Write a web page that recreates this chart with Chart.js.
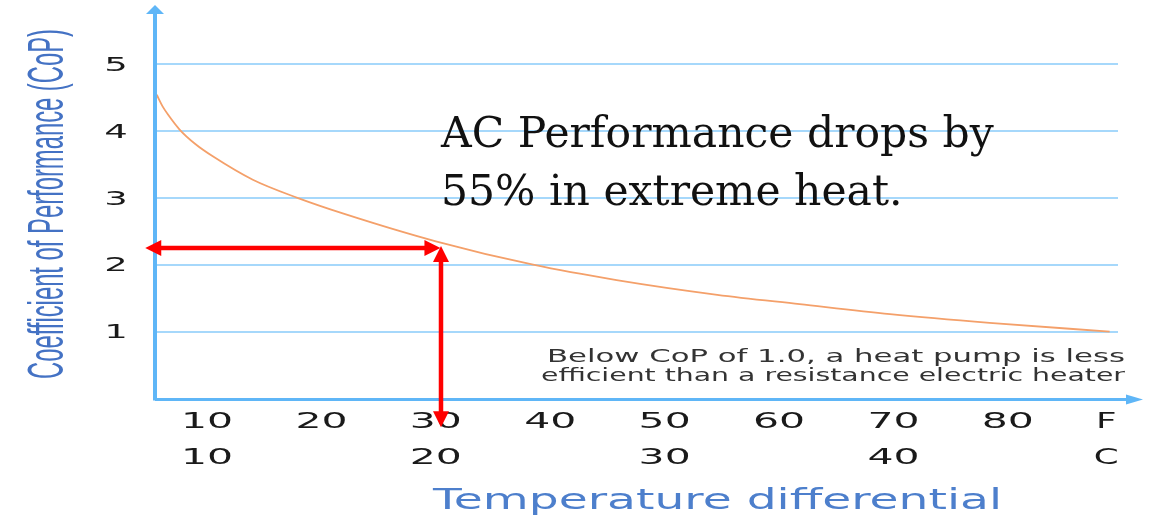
<!DOCTYPE html>
<html>
<head>
<meta charset="utf-8">
<script src="https://cdn.jsdelivr.net/npm/chart.js@4"></script>
<style>
  body { margin: 0; background: #fff; }
  canvas { display: block; }
</style>
</head>
<body>
<canvas id="cop-chart" width="1158" height="516"></canvas>
<script>
// temperature differential (F) vs coefficient of performance
const tempDiffF = [5.6, 6.1, 6.6, 7.6, 9.0, 10.5, 14.0, 17.9, 22, 30, 38.5, 45.8, 54.6, 61.8, 69.7, 78.4, 88.9];
const copValues = [4.54, 4.37, 4.24, 4.02, 3.8, 3.62, 3.27, 3.0, 2.76, 2.35, 2.0, 1.77, 1.55, 1.41, 1.26, 1.13, 1.0];

const yTickValues = [1, 2, 3, 4, 5];
const fTickValues = [10, 20, 30, 40, 50, 60, 70, 80];
const fTickLabels = ['10', '20', '30', '40', '50', '60', '70', '80'];
const cTickAtF = [10, 30, 50, 70];
const cTickLabels = ['10', '20', '30', '40'];
const unitAtF = 88.6;
const unitLabels = ['F', 'C'];

// red double arrows, in data units (F, CoP)
const arrowH = [[4.6, 2.25], [30.4, 2.25]];
const arrowV = [[30.45, 2.28], [30.45, -0.43]];

const headline = ['AC Performance drops by', '55% in extreme heat.'];
const note = ['Below CoP of 1.0, a heat pump is less', 'efficient than a resistance electric heater'];
const xTitle = 'Temperature differential';
const yTitle = 'Coefficient of Performance (CoP)';

const points = tempDiffF.map(function (f, i) { return { x: f, y: copValues[i] }; });

function stretchText(ctx, text, x, y, font, sx, align, color, baseline) {
    ctx.save();
    ctx.font = font;
    ctx.fillStyle = color;
    ctx.textAlign = align;
    ctx.textBaseline = baseline || 'middle';
    ctx.translate(x, y);
    ctx.scale(sx, 1);
    ctx.fillText(text, 0, 0);
    ctx.restore();
}

function fitText(ctx, text, x, y, font, width, align, color, baseline) {
    ctx.save();
    ctx.font = font;
    const sx = width / ctx.measureText(text).width;
    ctx.restore();
    stretchText(ctx, text, x, y, font, sx, align, color, baseline);
}

function arrowHead(ctx, x, y, angle, len, half) {
    ctx.save();
    ctx.translate(x, y);
    ctx.rotate(angle);
    ctx.beginPath();
    ctx.moveTo(0, 0);
    ctx.lineTo(-len, -half);
    ctx.lineTo(-len, half);
    ctx.closePath();
    ctx.fill();
    ctx.restore();
}

function doubleArrow(ctx, p1, p2) {
    const ang = Math.atan2(p2[1] - p1[1], p2[0] - p1[0]);
    const len = 14;
    ctx.beginPath();
    ctx.moveTo(p1[0] + Math.cos(ang) * len, p1[1] + Math.sin(ang) * len);
    ctx.lineTo(p2[0] - Math.cos(ang) * len, p2[1] - Math.sin(ang) * len);
    ctx.stroke();
    arrowHead(ctx, p2[0], p2[1], ang, len + 2, 8);
    arrowHead(ctx, p1[0], p1[1], ang + Math.PI, len + 2, 8);
}

const decorPlugin = {
    id: 'decor',
    afterDraw: function (chart) {
        const ctx = chart.ctx;
        const xs = chart.scales.x;
        const ys = chart.scales.y;
        const area = chart.chartArea;
        const axisColor = '#5fb6f7';
        const tickFont = '21px "DejaVu Sans"';

        // axis lines with arrows
        ctx.save();
        ctx.strokeStyle = axisColor;
        ctx.fillStyle = axisColor;
        ctx.lineWidth = 3;
        ctx.beginPath();
        ctx.moveTo(area.left, area.bottom + 1);
        ctx.lineTo(1130, area.bottom + 1);
        ctx.stroke();
        arrowHead(ctx, 1143, area.bottom + 1, 0, 17, 5);
        ctx.lineWidth = 4;
        ctx.beginPath();
        ctx.moveTo(area.left, area.bottom + 2);
        ctx.lineTo(area.left, 14);
        ctx.stroke();
        arrowHead(ctx, area.left, 5, -Math.PI / 2, 9, 9);
        ctx.restore();

        // y tick labels
        yTickValues.forEach(function (v) {
            stretchText(ctx, String(v), 116, ys.getPixelForValue(v) + 1.5, '20px "DejaVu Sans"', 1.85, 'center', '#1a1a1a');
        });
        // x tick labels, F row and C row
        fTickValues.forEach(function (v, i) {
            stretchText(ctx, fTickLabels[i], xs.getPixelForValue(v), 422.5, tickFont, 1.95, 'center', '#1a1a1a');
        });
        cTickAtF.forEach(function (v, i) {
            stretchText(ctx, cTickLabels[i], xs.getPixelForValue(v), 458.5, tickFont, 1.95, 'center', '#1a1a1a');
        });
        stretchText(ctx, unitLabels[0], xs.getPixelForValue(unitAtF), 422.5, tickFont, 1.7, 'center', '#1a1a1a');
        stretchText(ctx, unitLabels[1], xs.getPixelForValue(unitAtF), 458.5, tickFont, 1.7, 'center', '#1a1a1a');

        // axis titles
        fitText(ctx, xTitle, 717.5, 509, '28px "DejaVu Sans"', 569, 'center', '#4d7fcc', 'alphabetic');
        ctx.save();
        ctx.font = '23px "Liberation Sans"';
        const sl = 350 / ctx.measureText(yTitle).width;
        ctx.fillStyle = '#4472c4';
        ctx.textAlign = 'center';
        ctx.textBaseline = 'alphabetic';
        ctx.translate(63, 204);
        ctx.rotate(-Math.PI / 2);
        ctx.scale(sl, 2.19);
        ctx.fillText(yTitle, 0, 0);
        ctx.restore();

        // headline
        ctx.save();
        ctx.font = '42.5px "DejaVu Serif"';
        ctx.fillStyle = '#111';
        ctx.textAlign = 'left';
        ctx.textBaseline = 'alphabetic';
        ctx.fillText(headline[0], 441, 147);
        ctx.fillText(headline[1], 441, 205);
        ctx.restore();

        // note under the CoP 1 line
        fitText(ctx, note[0], 1125, 362, '18px "DejaVu Sans"', 578, 'right', '#333', 'alphabetic');
        fitText(ctx, note[1], 1125, 381, '18px "DejaVu Sans"', 584, 'right', '#333', 'alphabetic');

        // red arrows
        ctx.save();
        ctx.strokeStyle = '#ff0000';
        ctx.fillStyle = '#ff0000';
        ctx.lineWidth = 4.5;
        const toPx = function (p) { return [xs.getPixelForValue(p[0]), ys.getPixelForValue(p[1])]; };
        doubleArrow(ctx, toPx(arrowH[0]), toPx(arrowH[1]));
        doubleArrow(ctx, toPx(arrowV[0]), toPx(arrowV[1]));
        ctx.restore();
    }
};

const ctx = document.getElementById('cop-chart').getContext('2d');
new Chart(ctx, {
    type: 'line',
    data: {
        datasets: [{
            label: 'CoP',
            data: points,
            borderColor: '#f4a06a',
            borderWidth: 1.8,
            pointRadius: 0,
            fill: false,
            cubicInterpolationMode: 'monotone'
        }]
    },
    options: {
        responsive: false,
        animation: false,
        devicePixelRatio: 1,
        layout: { padding: { left: 155, right: 40, top: 64, bottom: 117.5 } },
        plugins: {
            legend: { display: false },
            tooltip: { enabled: false }
        },
        scales: {
            x: {
                type: 'linear',
                min: 5.45,
                max: 89.63,
                grid: { display: false, drawTicks: false },
                border: { display: false },
                ticks: { display: false }
            },
            y: {
                type: 'linear',
                min: 0,
                max: 5,
                grid: { color: '#a6d8fb', lineWidth: 2, drawTicks: false },
                border: { display: false },
                ticks: { display: false, stepSize: 1 }
            }
        }
    },
    plugins: [decorPlugin]
});
</script>
</body>
</html>
